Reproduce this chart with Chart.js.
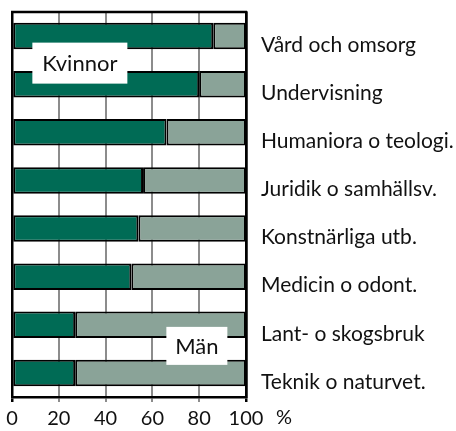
<!DOCTYPE html>
<html>
<head>
<meta charset="utf-8">
<script src="https://cdn.jsdelivr.net/npm/chart.js@4/dist/chart.umd.min.js"></script>
<style>
    html, body { margin: 0; padding: 0; background: #fff; }
    #wrap { width: 456px; height: 431px; }
</style>
</head>
<body>
<div id="wrap"><canvas id="genderChart"></canvas></div>
<script>
const categories = [
    "Vård och omsorg",
    "Undervisning",
    "Humaniora o teologi.",
    "Juridik o samhällsv.",
    "Konstnärliga utb.",
    "Medicin o odont.",
    "Lant- o skogsbruk",
    "Teknik o naturvet."
];
const kvinnor = [86, 80, 66, 56, 54, 51, 27, 27];
const man = [14, 20, 34, 44, 46, 49, 73, 73];
const xTicks = [0, 20, 40, 60, 80, 100];

const FONT = "Lato, 'DejaVu Sans', sans-serif";

// white boxes with the series names, plus the "%" after the axis
const annotations = {
    id: "annotations",
    afterDraw(chart) {
        const ctx = chart.ctx;
        const x = chart.scales.x;
        const y = chart.scales.y;
        const area = chart.chartArea;

        ctx.save();
        // frame top line
        ctx.strokeStyle = "#000";
        ctx.lineWidth = 2.5;
        ctx.beginPath();
        ctx.moveTo(area.left - 1, area.top);
        ctx.lineTo(area.right + 1, area.top);
        ctx.stroke();

        const boxes = [
            { text: "Kvinnor", cx: x.getPixelForValue(29), cy: (y.getPixelForValue(0) + y.getPixelForValue(1)) / 2 + 3, w: 95, h: 41 },
            { text: "Män", cx: x.getPixelForValue(79), cy: (y.getPixelForValue(6) + y.getPixelForValue(7)) / 2 - 3, w: 61, h: 38 }
        ];
        ctx.font = "22px " + FONT;
        ctx.textAlign = "center";
        ctx.textBaseline = "middle";
        boxes.forEach(function (b) {
            ctx.fillStyle = "#fff";
            ctx.fillRect(b.cx - b.w / 2, b.cy - b.h / 2, b.w, b.h);
            ctx.fillStyle = "#111";
            ctx.fillText(b.text, b.cx, b.cy + 1);
        });

        ctx.font = "20px " + FONT;
        ctx.textAlign = "left";
        ctx.fillText("%", x.getPixelForValue(100) + 30, area.bottom + 21);
        ctx.restore();
    }
};

const ctx = document.getElementById("genderChart");
new Chart(ctx, {
    type: "bar",
    data: {
        labels: categories,
        datasets: [
            {
                label: "Kvinnor",
                data: kvinnor,
                backgroundColor: "#006b55",
                borderColor: "#000",
                borderWidth: 2,
                borderSkipped: false
            },
            {
                label: "Män",
                data: man,
                backgroundColor: "#8aa398",
                borderColor: "#000",
                borderWidth: 2,
                borderSkipped: false
            }
        ]
    },
    options: {
        indexAxis: "y",
        responsive: true,
        maintainAspectRatio: false,
        animation: false,
        layout: { padding: { top: 12, left: 12, right: 0, bottom: 0 } },
        plugins: {
            legend: { display: false },
            tooltip: { enabled: false }
        },
        datasets: {
            bar: { categoryPercentage: 1, barPercentage: 0.55 }
        },
        scales: {
            x: {
                stacked: true,
                min: 0,
                max: 100,
                afterBuildTicks(axis) {
                    axis.ticks = xTicks.map(v => ({ value: v }));
                },
                grid: {
                    color: c => (c.tick && (c.tick.value === 0 || c.tick.value === 100)) ? "#000" : "#8c8c8c",
                    lineWidth: c => (c.tick && (c.tick.value === 0 || c.tick.value === 100)) ? 2.5 : 2,
                    tickLength: 5
                },
                border: { display: true, color: "#000", width: 2.5 },
                ticks: {
                    color: "#111",
                    font: { family: FONT, size: 20 },
                    padding: 5
                },
                afterFit(axis) {
                    axis.height = 34;
                    axis.paddingLeft = 0;
                    axis.paddingRight = 0;
                }
            },
            y: {
                stacked: true,
                position: "right",
                grid: { display: false, drawTicks: false },
                border: { display: true, color: "#000", width: 2.5 },
                ticks: {
                    color: "#111",
                    font: { family: FONT, size: 21 },
                    padding: 15,
                    labelOffset: 9
                },
                afterFit(axis) {
                    axis.width = 210;
                    axis.paddingTop = 0;
                    axis.paddingBottom = 0;
                }
            }
        }
    },
    plugins: [annotations]
});
</script>
</body>
</html>
